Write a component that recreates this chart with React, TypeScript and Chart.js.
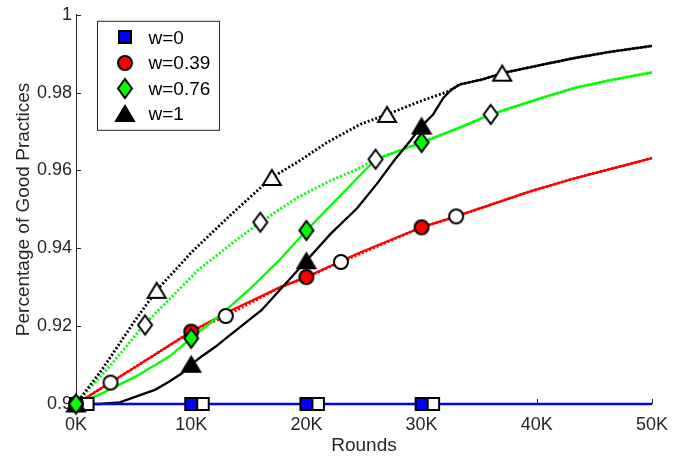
import React, { useEffect, useRef } from 'react';
import { Chart, registerables } from 'chart.js';

Chart.register(...registerables);

// ---------- tick labels / categories ----------
const xTickLabels = ['0K', '10K', '20K', '30K', '40K', '50K'];
const yTickLabels = ['0.9', '0.92', '0.94', '0.96', '0.98', '1'];
const legendLabels = ['w=0', 'w=0.39', 'w=0.76', 'w=1'];

// ---------- w = 0 ----------
const w0LineX = [0, 50];
const w0LineY = [0.9, 0.9];
const w0FilledX = [0, 10, 20, 30];
const w0FilledY = [0.9, 0.9, 0.9, 0.9];
const w0HollowX = [1, 11, 21, 31];
const w0HollowY = [0.9, 0.9, 0.9, 0.9];

// ---------- w = 0.39 ----------
const w039SolidX = [0, 5.2, 10, 13.5, 17.8, 20, 24.4, 30, 33, 39.3, 43.3, 50];
const w039SolidY = [0.9, 0.9096, 0.9186, 0.9241, 0.9301, 0.9326, 0.9386, 0.9454, 0.9482, 0.9545, 0.958, 0.9632];
const w039DottedX = [0, 3, 5.2, 10, 13, 17.8, 20, 23, 30, 33, 39.3, 43.3, 50];
const w039DottedY = [0.9, 0.9055, 0.9096, 0.9186, 0.9226, 0.9301, 0.9326, 0.9365, 0.9454, 0.9482, 0.9545, 0.958, 0.9632];
const w039FilledX = [0, 10, 20, 30];
const w039FilledY = [0.9, 0.9186, 0.9326, 0.9454];
const w039HollowX = [3, 13, 23, 33];
const w039HollowY = [0.9055, 0.9226, 0.9365, 0.9482];

// ---------- w = 0.76 ----------
const w076SolidX = [0, 2.3, 5.2, 8.1, 10, 12.5, 15, 17.5, 20, 22.5, 25, 26, 30, 33.3, 36, 40.5, 43.3, 46.2, 50];
const w076SolidY = [0.9, 0.9028, 0.9071, 0.9122, 0.9169, 0.9228, 0.9293, 0.9365, 0.9446, 0.9522, 0.9598, 0.9628, 0.9672, 0.971, 0.9744, 0.9787, 0.9812, 0.9831, 0.9852];
const w076DottedX = [0, 2.9, 5.9, 10.6, 13.5, 16, 19.25, 22.1, 24.4, 26, 30, 33.3, 36, 40.5, 43.3, 46.2, 50];
const w076DottedY = [0.9, 0.9096, 0.9203, 0.9344, 0.9412, 0.9467, 0.9531, 0.9574, 0.9603, 0.9629, 0.9672, 0.971, 0.9744, 0.9787, 0.9812, 0.9831, 0.9852];
const w076FilledX = [0, 10, 20, 30];
const w076FilledY = [0.9, 0.9169, 0.9446, 0.9672];
const w076HollowX = [6, 16, 26, 36];
const w076HollowY = [0.9203, 0.9467, 0.9629, 0.9744];

// ---------- w = 1 ----------
const w1SolidX = [0, 2, 3.8, 5.2, 6.9, 8.1, 9.2, 10, 10.9, 12.1, 13.2, 16.1, 20, 22.1, 24.4, 26.1, 27.6, 29, 30, 31, 31.9, 32.6, 33.3, 35.3, 37, 40.5, 43.3, 46.2, 50];
const w1SolidY = [0.9, 0.9, 0.9004, 0.9019, 0.9037, 0.9058, 0.9079, 0.9102, 0.9122, 0.9147, 0.9173, 0.9241, 0.9368, 0.9437, 0.9503, 0.9565, 0.9625, 0.9676, 0.9714, 0.9744, 0.9787, 0.9808, 0.9821, 0.9834, 0.985, 0.9872, 0.9889, 0.9904, 0.992];
const w1DottedX = [0, 2.3, 5.2, 7, 10.1, 13.5, 17, 19.25, 21.8, 24.7, 27, 29.9, 32.4, 33.3, 35.3, 37, 40.5, 43.3, 46.2, 50];
const w1DottedY = [0.9, 0.909, 0.9218, 0.9292, 0.9392, 0.9488, 0.9582, 0.9622, 0.9672, 0.9719, 0.9744, 0.9778, 0.9804, 0.9821, 0.9834, 0.985, 0.9872, 0.9889, 0.9904, 0.992];
const w1FilledX = [0, 10, 20, 30];
const w1FilledY = [0.9, 0.9102, 0.9368, 0.9714];
const w1HollowX = [7, 17, 27, 37];
const w1HollowY = [0.9292, 0.9582, 0.9744, 0.985];

const BLUE = '#0000ff';
const RED = '#ff0000';
const GREEN = '#00ff00';
const BLACK = '#000000';
const AXIS = '#262626';
const FONT = "'Liberation Sans', Arial, Helvetica, sans-serif";

const zip = (xs: number[], ys: number[]) => xs.map((x, i) => ({ x, y: ys[i] }));

type Shape = 'square' | 'circle' | 'diamond' | 'triangle';

function makeMarker(shape: Shape, fill: string): HTMLCanvasElement {
  const dims: Record<Shape, [number, number]> = {
    square: [12, 12],
    circle: [14, 14],
    diamond: [14, 19],
    triangle: [18, 15],
  };
  const [w, h] = dims[shape];
  const c = document.createElement('canvas');
  c.width = w + 6;
  c.height = h + 6;
  const ctx = c.getContext('2d')!;
  const cx = c.width / 2;
  const cy = c.height / 2;
  ctx.beginPath();
  if (shape === 'square') {
    ctx.rect(cx - w / 2, cy - h / 2, w, h);
  } else if (shape === 'circle') {
    ctx.arc(cx, cy, w / 2, 0, Math.PI * 2);
  } else if (shape === 'diamond') {
    ctx.moveTo(cx, cy - h / 2);
    ctx.lineTo(cx + w / 2, cy);
    ctx.lineTo(cx, cy + h / 2);
    ctx.lineTo(cx - w / 2, cy);
    ctx.closePath();
  } else {
    ctx.moveTo(cx, cy - h / 2);
    ctx.lineTo(cx + w / 2, cy + h / 2);
    ctx.lineTo(cx - w / 2, cy + h / 2);
    ctx.closePath();
  }
  ctx.fillStyle = fill;
  ctx.fill();
  ctx.lineWidth = 2;
  ctx.lineJoin = 'miter';
  ctx.strokeStyle = '#000';
  ctx.stroke();
  return c;
}

export default function App() {
  const ref = useRef<HTMLCanvasElement | null>(null);

  useEffect(() => {
    document.body.style.margin = '0';
    const canvas = ref.current;
    if (!canvas) return;

    const mk = {
      w0F: makeMarker('square', BLUE),
      w0H: makeMarker('square', '#fff'),
      w039F: makeMarker('circle', RED),
      w039H: makeMarker('circle', '#fff'),
      w076F: makeMarker('diamond', GREEN),
      w076H: makeMarker('diamond', '#fff'),
      w1F: makeMarker('triangle', BLACK),
      w1H: makeMarker('triangle', '#fff'),
    };

    const line = (data: any[], color: string, dotted: boolean) => ({
      type: 'line' as const,
      data,
      borderColor: color,
      backgroundColor: color,
      borderWidth: dotted ? 2.8 : 2.3,
      borderDash: dotted ? [2, 2] : [],
      pointRadius: 0,
      pointHoverRadius: 0,
      tension: 0,
      fill: false,
      clip: false as any,
      order: 1,
    });
    const markers = (data: any[], img: HTMLCanvasElement) => ({
      type: 'line' as const,
      data,
      showLine: false,
      pointStyle: img,
      pointRadius: 8,
      pointHoverRadius: 8,
      borderColor: '#000',
      backgroundColor: '#000',
      clip: false as any,
      order: 0,
    });

    const legendMarkers = [mk.w0F, mk.w039F, mk.w076F, mk.w1F];

    const inwardTicks = {
      id: 'inwardTicks',
      beforeDatasetsDraw(chart: any) {
        const { ctx, chartArea, scales } = chart;
        ctx.save();
        ctx.strokeStyle = AXIS;
        ctx.lineWidth = 1;
        scales.x.ticks.forEach((t: any) => {
          const px = Math.round(scales.x.getPixelForValue(t.value)) + 0.5;
          ctx.beginPath();
          ctx.moveTo(px, chartArea.bottom);
          ctx.lineTo(px, chartArea.bottom - 5);
          ctx.stroke();
        });
        scales.y.ticks.forEach((t: any) => {
          const py = Math.round(scales.y.getPixelForValue(t.value)) + 0.5;
          ctx.beginPath();
          ctx.moveTo(chartArea.left, py);
          ctx.lineTo(chartArea.left + 5, py);
          ctx.stroke();
        });
        ctx.restore();
      },
    };

    const boxLegend = {
      id: 'boxLegend',
      afterDatasetsDraw(chart: any) {
        const { ctx, chartArea } = chart;
        const left = chartArea.left + 21.5;
        const top = chartArea.top + 6.5;
        const w = 122;
        const h = 109;
        ctx.save();
        ctx.fillStyle = '#fff';
        ctx.fillRect(left, top, w, h);
        ctx.strokeStyle = AXIS;
        ctx.lineWidth = 1;
        ctx.strokeRect(left, top, w, h);
        ctx.font = `19px ${FONT}`;
        ctx.fillStyle = '#000';
        ctx.textBaseline = 'middle';
        ctx.textAlign = 'left';
        legendLabels.forEach((lab, i) => {
          const cy = top + 16 + i * 25.5;
          const img = legendMarkers[i];
          ctx.drawImage(img, Math.round(left + 27 - img.width / 2), Math.round(cy - img.height / 2));
          ctx.fillText(lab, left + 51, cy + 1);
        });
        ctx.restore();
      },
    };

    const chart = new Chart(canvas, {
      type: 'line',
      data: {
        datasets: [
          markers(zip(w076FilledX, w076FilledY), mk.w076F),
          markers(zip(w076HollowX, w076HollowY), mk.w076H),
          markers(zip(w039FilledX, w039FilledY), mk.w039F),
          markers(zip(w039HollowX, w039HollowY), mk.w039H),
          markers(zip(w1FilledX, w1FilledY), mk.w1F),
          markers(zip(w1HollowX, w1HollowY), mk.w1H),
          markers(zip(w0FilledX, w0FilledY), mk.w0F),
          markers(zip(w0HollowX, w0HollowY), mk.w0H),
          line(zip(w0LineX, w0LineY), BLUE, false),
          line(zip(w1SolidX, w1SolidY), BLACK, false),
          line(zip(w1DottedX, w1DottedY), BLACK, true),
          line(zip(w076SolidX, w076SolidY), GREEN, false),
          line(zip(w076DottedX, w076DottedY), GREEN, true),
          line(zip(w039SolidX, w039SolidY), RED, false),
          line(zip(w039DottedX, w039DottedY), RED, true),
        ] as any,
      },
      options: {
        animation: false,
        responsive: false,
        devicePixelRatio: 1,
        events: [],
        layout: { padding: { top: 13, right: 20, left: 0, bottom: 0 } },
        plugins: {
          legend: { display: false },
          tooltip: { enabled: false },
        },
        scales: {
          x: {
            type: 'linear',
            min: 0,
            max: 50,
            ticks: {
              stepSize: 10,
              padding: 10,
              color: AXIS,
              font: { family: FONT, size: 18 },
              callback: (_v: any, i: number) => xTickLabels[i],
            },
            grid: { display: false, drawTicks: false },
            border: { display: true, color: AXIS, width: 1 },
            title: {
              display: true,
              text: 'Rounds',
              color: AXIS,
              font: { family: FONT, size: 19 },
              padding: { top: 0, bottom: 1 },
            },
            afterFit: (axis: any) => {
              axis.height = 54;
            },
          },
          y: {
            type: 'linear',
            min: 0.9,
            max: 1,
            ticks: {
              stepSize: 0.02,
              padding: 4,
              color: AXIS,
              font: { family: FONT, size: 18 },
              callback: (_v: any, i: number) => yTickLabels[i],
            },
            grid: { display: false, drawTicks: false },
            border: { display: true, color: AXIS, width: 1 },
            title: {
              display: true,
              text: 'Percentage of Good Practices',
              color: AXIS,
              font: { family: FONT, size: 19 },
              padding: { top: 12, bottom: 12 },
            },
            afterFit: (axis: any) => {
              axis.width = 76;
            },
          },
        },
      } as any,
      plugins: [inwardTicks, boxLegend],
    });

    return () => chart.destroy();
  }, []);

  return (
    <div style={{ width: 678, height: 458, background: '#fff' }}>
      <canvas ref={ref} width={678} height={458} style={{ display: 'block' }} />
    </div>
  );
}
